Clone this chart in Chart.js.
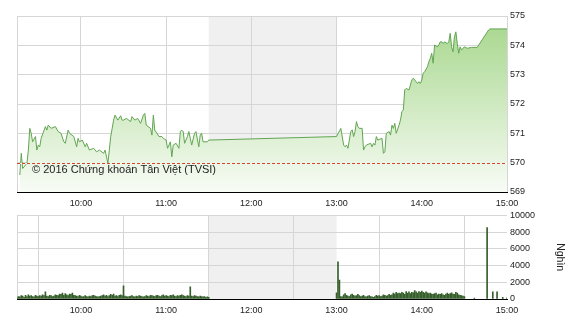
<!DOCTYPE html>
<html>
<head>
<meta charset="utf-8">
<script src="https://cdn.jsdelivr.net/npm/chart.js@4.4.1/dist/chart.umd.min.js"></script>
<style>
  html, body { margin:0; padding:0; background:#fff; }
  #wrap { position:relative; width:570px; height:320px; overflow:hidden; }
  .box { position:absolute; left:0; width:570px; }
</style>
</head>
<body>
<div id="wrap">
  <div class="box" style="top:0;height:215px"><canvas id="price"></canvas></div>
  <div class="box" style="top:207px;height:113px"><canvas id="volume"></canvas></div>
</div>
<script>
// ---- data ----
const hourTicks = ["10:00", "11:00", "12:00", "13:00", "14:00", "15:00"];
const sessionStart = "09:15", sessionEnd = "15:00";
const lunchBreak = ["11:30", "13:00"];
const refLevel = 570;
const priceTicks = [569, 570, 571, 572, 573, 574, 575];
const volumeTicks = [0, 2000, 4000, 6000, 8000, 10000];

const priceTimes = [
  "09:17","09:18","09:19","09:22","09:23","09:24","09:25","09:26","09:28","09:29",
  "09:30","09:31","09:32","09:35","09:36","09:37","09:39","09:42","09:44","09:46",
  "09:48","09:49","09:51","09:52","09:55","09:57","09:58","09:59","10:01","10:03",
  "10:04","10:06","10:09","10:11","10:13","10:16","10:17","10:19","10:21","10:23",
  "10:24","10:26","10:28","10:29","10:30","10:32","10:35","10:36","10:38","10:40",
  "10:42","10:44","10:45","10:46","10:49","10:50","10:51","10:52","10:55","10:57",
  "10:58","11:00","11:01","11:03","11:04","11:05","11:07","11:09","11:10","11:11",
  "11:12","11:13","11:15","11:16","11:17","11:18","11:20","11:21","11:23","11:24",
  "11:25","11:26","11:29","11:30","13:00","13:03","13:05","13:06","13:07","13:08",
  "13:10","13:11","13:12","13:13","13:14","13:15","13:16","13:18","13:19","13:20",
  "13:21","13:24","13:25","13:26","13:27","13:28","13:29","13:32","13:33","13:34",
  "13:35","13:37","13:38","13:39","13:40","13:41","13:42","13:44","13:45","13:46",
  "13:47","13:48","13:49","13:51","13:52","13:53","13:54","13:55","13:57","13:58",
  "13:59","14:00","14:01","14:02","14:04","14:05","14:06","14:07","14:08","14:09",
  "14:11","14:12","14:13","14:14","14:15","14:16","14:18","14:19","14:20","14:21",
  "14:22","14:23","14:24","14:25","14:26","14:27","14:28","14:30","14:32","14:35",
  "14:39","14:47","14:48","15:00"
];
const priceValues = [
  569.58,570.32,569.80,569.98,570.43,571.17,571.00,570.71,570.89,570.43,
  570.60,570.54,570.83,571.23,571.11,571.28,571.17,571.23,571.06,571.00,
  570.71,570.66,571.11,571.00,570.89,570.54,570.83,570.71,570.77,570.54,
  570.66,570.43,570.49,570.37,570.43,570.32,570.43,569.98,570.89,571.45,
  571.62,571.45,571.60,571.45,571.45,571.51,571.40,571.57,571.45,571.51,
  571.34,571.62,571.68,571.28,571.17,570.94,571.62,571.11,570.89,570.89,
  570.83,570.77,570.49,570.71,570.20,570.60,570.66,570.49,571.06,571.11,
  571.06,570.66,570.89,571.06,570.83,570.60,571.00,571.06,570.54,570.94,
  571.00,570.71,570.71,570.77,570.89,571.17,570.60,570.54,570.60,570.49,
  571.06,571.12,570.89,571.06,571.40,571.23,571.17,571.17,570.43,570.54,
  570.60,570.66,570.54,570.66,570.60,570.89,570.77,570.83,570.32,570.37,
  571.00,571.06,570.94,571.28,571.17,571.34,571.00,571.28,571.45,571.74,
  571.80,572.48,572.53,572.48,572.65,572.82,572.88,572.82,572.70,572.76,
  572.70,572.82,573.05,573.10,573.27,573.44,573.56,573.73,573.39,574.01,
  573.95,574.01,574.12,574.12,574.06,574.12,574.06,574.12,574.41,573.95,
  573.78,574.29,574.46,574.06,573.73,573.95,573.84,573.95,573.90,573.93,
  573.93,574.52,574.56,574.56
];

// volume (thousand shares), one bar per minute from each session start
const volMorningStart = "09:15";
const volMorning = [
  150,300,250,400,350,200,450,300,500,350,400,300,250,450,350,
  300,400,350,500,400,870,350,300,450,400,300,350,500,450,400,
  600,550,700,450,650,500,400,600,550,700,450,400,350,300,450,
  350,250,300,400,300,250,350,300,400,450,350,300,250,300,350,
  400,500,350,450,300,400,550,450,600,350,400,300,450,500,400,
  1580,350,300,250,300,350,400,300,250,350,300,400,350,300,250,
  300,400,350,300,450,400,350,300,400,450,350,300,400,500,350,
  400,350,300,450,400,500,350,300,400,350,450,500,400,350,300,
  400,350,1460,350,300,400,350,300,250,350,300,250,300,200,250,
  200
];
const volAfternoonStart = "13:00";
const volAfternoon = [
  750,4440,2260,300,250,500,650,450,350,300,500,600,450,350,400,
  550,400,300,350,450,300,250,350,400,300,250,200,300,450,350,
  400,300,350,500,450,350,400,550,450,500,700,600,800,650,700,
  650,800,700,550,900,700,850,650,800,750,1000,850,700,900,800,
  950,800,700,850,750,650,700,600,550,650,700,500,600,550,650,
  500,450,600,700,550,650,750,600,550,800,700,500,450,400,350,
  300
];
const volCloseTimes = ["14:37", "14:46", "14:50", "14:53", "14:57", "15:00"];
const volCloseValues = [100, 8530, 870, 870, 200, 150];

// ---- helpers ----
const toMin = s => { const [h, m] = s.split(":").map(Number); return h * 60 + m; };
const fmtMin = v => { const h = Math.floor(v / 60), m = v % 60; return h + ":" + String(m).padStart(2, "0"); };

const pricePts = priceTimes.map((t, i) => ({ x: toMin(t), y: priceValues[i] }));
const volPts = [
  ...volMorning.map((v, i) => ({ x: toMin(volMorningStart) + i, y: v })),
  ...volAfternoon.map((v, i) => ({ x: toMin(volAfternoonStart) + i, y: v })),
  ...volCloseTimes.map((t, i) => ({ x: toMin(t), y: volCloseValues[i] })),
];

Chart.defaults.font.family = "'Liberation Sans', Arial, sans-serif";
Chart.defaults.color = "#222";
const GRID = "#d6d6d6";

// grey lunch band + light left edge, under the grid
const bandPlugin = {
  id: "band",
  beforeDraw(chart) {
    const { ctx, chartArea: a, scales } = chart;
    const x0 = scales.x.getPixelForValue(toMin(lunchBreak[0]));
    const x1 = scales.x.getPixelForValue(toMin(lunchBreak[1]));
    ctx.save();
    ctx.fillStyle = "#f0f0f0";
    ctx.fillRect(x0, a.top, x1 - x0, a.bottom - a.top);
    ctx.strokeStyle = GRID;
    ctx.lineWidth = 1;
    ctx.beginPath();
    ctx.moveTo(a.left + 0.5, a.top);
    ctx.lineTo(a.left + 0.5, a.bottom);
    ctx.stroke();
    ctx.restore();
  }
};

function xAxis(h) {
  return {
    type: "linear",
    min: toMin(sessionStart), max: toMin(sessionEnd),
    afterBuildTicks: s => { s.ticks = hourTicks.map(t => ({ value: toMin(t) })); },
    ticks: { callback: v => fmtMin(v), font: { size: 9 }, color: "#222", maxRotation: 0, padding: 6 },
    grid: { color: GRID, drawTicks: false },
    border: { color: "#000" },
    afterFit: s => { s.height = h; },
  };
}
function yAxis(ticks, extra) {
  return {
    position: "right",
    min: ticks[0], max: ticks[ticks.length - 1],
    afterBuildTicks: s => { s.ticks = ticks.map(v => ({ value: v })); },
    ticks: { font: { size: 9 }, color: "#222", padding: 3, callback: v => String(v) },
    grid: { color: GRID, drawTicks: false },
    border: { display: false },
    afterFit: s => { s.width = 570 - 507; },
    ...extra,
  };
}

new Chart(document.getElementById("price"), {
  type: "line",
  data: {
    datasets: [{
      data: pricePts,
      borderColor: "#62a553",
      borderWidth: 1,
      pointRadius: 0,
      tension: 0,
      fill: "start",
      backgroundColor: c => {
        const a = c.chart.chartArea;
        if (!a) return "rgba(0,0,0,0)";
        const g = c.chart.ctx.createLinearGradient(0, a.top, 0, a.bottom);
        g.addColorStop(0, "#a5d68a");
        g.addColorStop(1, "#f8fcf6");
        return g;
      },
    }],
  },
  options: {
    responsive: true, maintainAspectRatio: false, animation: false,
    layout: { padding: { left: 17, top: 16, right: 0, bottom: 0 } },
    plugins: { legend: { display: false }, tooltip: { enabled: false } },
    scales: {
      x: xAxis(215 - 192),
      y: yAxis(priceTicks, {}),
    },
  },
  plugins: [bandPlugin, {
    id: "ref",
    afterDatasetsDraw(chart) {
      // reference-price dashes, drawn as crisp 1px rects
      const { ctx, chartArea: a, scales } = chart;
      const y = Math.round(scales.y.getPixelForValue(refLevel));
      ctx.save();
      ctx.fillStyle = "#ffffff";
      ctx.fillRect(a.left, y, a.right - a.left, 1);
      ctx.fillStyle = "#d8452a";
      for (let x = Math.round(a.left); x < a.right; x += 5) ctx.fillRect(x, y, 3, 1);
      ctx.restore();
    },
    afterDraw(chart) {
      const { ctx, scales } = chart;
      ctx.save();
      ctx.font = "11px 'Liberation Sans', Arial, sans-serif";
      ctx.fillStyle = "#222";
      ctx.textBaseline = "middle";
      ctx.fillText("© 2016 Chứng khoán Tân Việt (TVSI)", 32, scales.y.getPixelForValue(refLevel) + 7);
      ctx.restore();
    }
  }],
});

new Chart(document.getElementById("volume"), {
  type: "bar",
  data: {
    datasets: [{
      data: volPts,
      backgroundColor: "#365f2c",
      barThickness: 1,
    }],
  },
  options: {
    responsive: true, maintainAspectRatio: false, animation: false,
    layout: { padding: { left: 17, top: 215 - 207, right: 0, bottom: 0 } },
    plugins: { legend: { display: false }, tooltip: { enabled: false } },
    scales: {
      x: { ...xAxis(320 - 299), offset: false },
      y: yAxis(volumeTicks, {
        title: { display: true, text: "Nghìn", font: { size: 10.5 }, color: "#222", padding: 4 },
      }),
    },
  },
  plugins: [bandPlugin],
});
</script>
</body>
</html>
